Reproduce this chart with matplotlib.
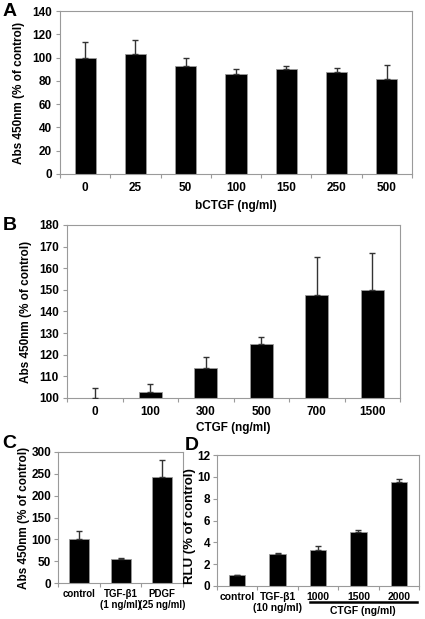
import numpy as np
import matplotlib
matplotlib.use("Agg")
import matplotlib.pyplot as plt
import matplotlib.transforms as mtransforms

plt.rcParams['font.family'] = ['Liberation Sans', 'DejaVu Sans']
plt.rcParams['font.weight'] = 'bold'
plt.rcParams['axes.labelweight'] = 'bold'
plt.rcParams['font.size'] = 8.5

# panel A data
a_labels = ["0", "25", "50", "100", "150", "250", "500"]
a_vals = [100, 103, 93, 86, 90, 88, 82]
a_err = [13.5, 12.5, 6.5, 4.5, 3, 3, 12]

# panel B data
b_labels = ["0", "100", "300", "500", "700", "1500"]
b_vals = [100, 103, 114, 125, 147.5, 150]
b_err = [4.5, 3.5, 5, 3, 17.5, 17]

# panel C data
c_labels = ["control", "TGF-β1\n(1 ng/ml)", "PDGF\n(25 ng/ml)"]
c_vals = [100, 55, 243]
c_err = [20, 3, 39]

# panel D data
d_labels = ["control", "TGF-β1\n(10 ng/ml)", "1000", "1500", "2000"]
d_vals = [1.0, 2.9, 3.3, 4.95, 9.55]
d_err = [0.0, 0.15, 0.35, 0.15, 0.25]

W, H = 425, 619
fig = plt.figure(figsize=(W / 100, H / 100), dpi=100)
grey = "#9a9a9a"


def make_ax(l, r, t, b):
    return fig.add_axes([l / W, 1 - b / H, (r - l) / W, (b - t) / H])


def bars(ax, labels, vals, err, width, ylim, step, bottom=0):
    x = np.arange(len(vals))
    ax.bar(x, np.array(vals) - bottom, width, bottom=bottom, color="black",
           edgecolor=grey, linewidth=0.6, zorder=2)
    ax.errorbar(x, vals, yerr=[np.zeros(len(err)), err], fmt="none",
                ecolor="#333333", elinewidth=1, capsize=2.5, capthick=1, zorder=3)
    ax.set_xlim(-0.5, len(vals) - 0.5)
    ax.set_ylim(*ylim)
    ax.set_yticks(np.arange(ylim[0], ylim[1] + step / 2, step))
    # Excel style: tick marks between categories, labels centred
    ax.set_xticks(np.arange(-0.5, len(vals), 1))
    ax.set_xticklabels([])
    ax.set_xticks(x, minor=True)
    ax.set_xticklabels(labels, minor=True)
    ax.tick_params(axis="x", which="major", length=3, color=grey, direction="out")
    ax.tick_params(axis="x", which="minor", length=0, pad=6)
    ax.tick_params(axis="y", length=3, color=grey, pad=3)
    for s in ax.spines.values():
        s.set_color(grey)
        s.set_linewidth(0.8)


# A
axA = make_ax(60, 412, 11, 174)
bars(axA, a_labels, a_vals, a_err, 0.42, (0, 140), 20)
axA.set_xlabel("bCTGF (ng/ml)", labelpad=4)
axA.set_ylabel("Abs 450nm (% of control)", labelpad=5)
fig.text(3 / W, 1 - 12 / H, "A", fontsize=14, fontweight="bold", va="center")

# B
axB = make_ax(67, 400, 225, 398)
bars(axB, b_labels, b_vals, b_err, 0.41, (100, 180), 10, bottom=100)
axB.set_xlabel("CTGF (ng/ml)", labelpad=3)
axB.set_ylabel("Abs 450nm (% of control)", labelpad=5)
fig.text(3 / W, 1 - 226 / H, "B", fontsize=14, fontweight="bold", va="center")

# C
axC = make_ax(58, 183, 452, 583)
bars(axC, c_labels, c_vals, c_err, 0.48, (0, 300), 50)
axC.tick_params(axis="x", which="minor", pad=4, labelsize=7)
axC.tick_params(axis="y", labelsize=8.5, pad=2)
axC.set_ylabel("Abs 450nm (% of control)", fontsize=8.5)
axC.yaxis.set_label_coords(-0.225, 0.5)
fig.text(2 / W, 1 - 444 / H, "C", fontsize=14, fontweight="bold", va="center")

# D
axD = make_ax(217, 419, 455, 586)
bars(axD, d_labels, d_vals, d_err, 0.41, (0, 12), 2)
axD.tick_params(axis="x", which="minor", pad=4, labelsize=7.5)
axD.tick_params(axis="y", labelsize=8.5, pad=2)
axD.set_ylabel("RLU (% of control)", fontsize=9.5)
axD.yaxis.set_label_coords(-0.105, 0.46)
fig.text(185 / W, 1 - 445 / H, "D", fontsize=14, fontweight="bold", va="center")
trans = mtransforms.blended_transform_factory(axD.transData, axD.transAxes)
axD.plot([1.8, 4.45], [-0.122, -0.122], color="black", lw=1.8,
         transform=trans, clip_on=False)
axD.text(3.1, -0.19, "CTGF (ng/ml)", transform=trans, ha="center", va="center",
         fontsize=7.5)

fig.savefig("out.png", dpi=100)
